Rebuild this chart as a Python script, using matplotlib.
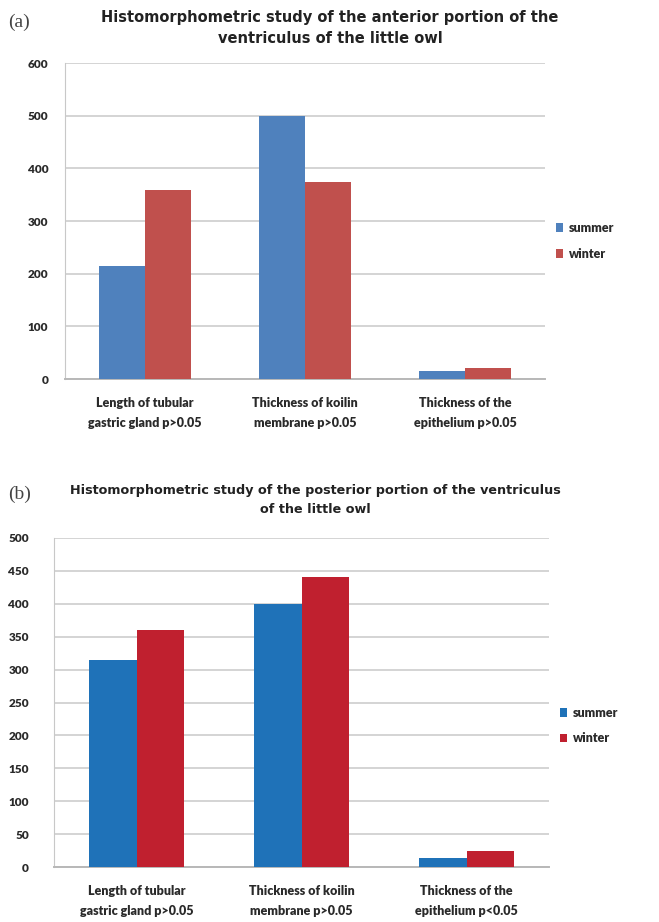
import matplotlib

matplotlib.use("Agg")

import matplotlib.pyplot as plt  # noqa: E402
import numpy as np  # noqa: E402

plt.rcParams["font.family"] = ["Lato", "DejaVu Sans"]
plt.rcParams["font.weight"] = "bold"

categories_a = [
    "Length of tubular\ngastric gland p>0.05",
    "Thickness of koilin\nmembrane p>0.05",
    "Thickness of the\nepithelium p>0.05",
]
summer_a = [214, 500, 15]
winter_a = [358, 374, 21]

categories_b = [
    "Length of tubular\ngastric gland p>0.05",
    "Thickness of koilin\nmembrane p>0.05",
    "Thickness of the\nepithelium p<0.05",
]
summer_b = [315, 400, 14]
winter_b = [360, 441, 24]

W, H = 659, 922
fig = plt.figure(figsize=(W / 100, H / 100), dpi=100)


def px_axes(left, top, right, bottom):
    return fig.add_axes([left / W, 1 - bottom / H, (right - left) / W, (bottom - top) / H])


def draw_panel(ax, cats, summer, winter, colors, ymax, ystep, ypad, legend_y):
    ind = np.arange(len(cats))
    width = 1 / 3.5
    ax.bar(ind - width / 2, summer, width, color=colors[0], label="summer", zorder=3)
    ax.bar(ind + width / 2, winter, width, color=colors[1], label="winter", zorder=3)
    ax.set_xlim(-0.5, len(cats) - 0.5)
    ax.set_ylim(0, ymax)
    ax.set_yticks(np.arange(0, ymax + 1, ystep))
    ax.set_xticks(ind)
    ax.set_xticklabels(cats, fontsize=9, fontweight="heavy", color="#2a2a2a", linespacing=1.75)
    ax.tick_params(axis="x", length=0, pad=13)
    ax.tick_params(axis="y", length=0, pad=ypad, labelsize=8.5, labelcolor="#2a2a2a")
    for lbl in ax.get_yticklabels():
        lbl.set_fontweight("heavy")
    ax.yaxis.grid(True, color="#d4d4d4", linewidth=1.4, zorder=0)
    for side in ("top", "right"):
        ax.spines[side].set_visible(False)
    ax.spines["left"].set_color("#c8c8c8")
    ax.spines["bottom"].set_color("#b8b8b8")
    ax.spines["bottom"].set_linewidth(1.4)
    leg = ax.legend(
        loc="center left",
        bbox_to_anchor=(1.0, legend_y),
        frameon=False,
        fontsize=9,
        handlelength=0.5,
        handleheight=0.7,
        handletextpad=0.5,
        labelspacing=1.1,
        labelcolor="#2a2a2a",
    )
    for t in leg.get_texts():
        t.set_fontweight("heavy")


def panel_title(x, y, letter, text, size):
    fig.text(8 / W, 1 - y / H, letter, fontsize=14, fontweight="normal",
             family="Liberation Serif", color="#444444", va="center")
    fig.text(x / W, 1 - (y + 6) / H, text, fontsize=size, ha="center", va="center",
             linespacing=1.55, color="#222222", family="DejaVu Sans", fontweight="bold")


ax1 = px_axes(65, 63, 545, 379)
draw_panel(ax1, categories_a, summer_a, winter_a, ["#4f81bd", "#c0504d"], 600, 100, 12, 0.437)
panel_title(330, 22, "(a)",
            "Histomorphometric study of the anterior portion of the\nventriculus of the little owl",
            10.5)

ax2 = px_axes(54, 538, 549, 867)
draw_panel(ax2, categories_b, summer_b, winter_b, ["#1f72b8", "#c0202f"], 500, 50, 18, 0.43)
panel_title(315, 494, "(b)",
            "Histomorphometric study of the posterior portion of the ventriculus\nof the little owl",
            9.2)

fig.savefig("out.png", dpi=100)
